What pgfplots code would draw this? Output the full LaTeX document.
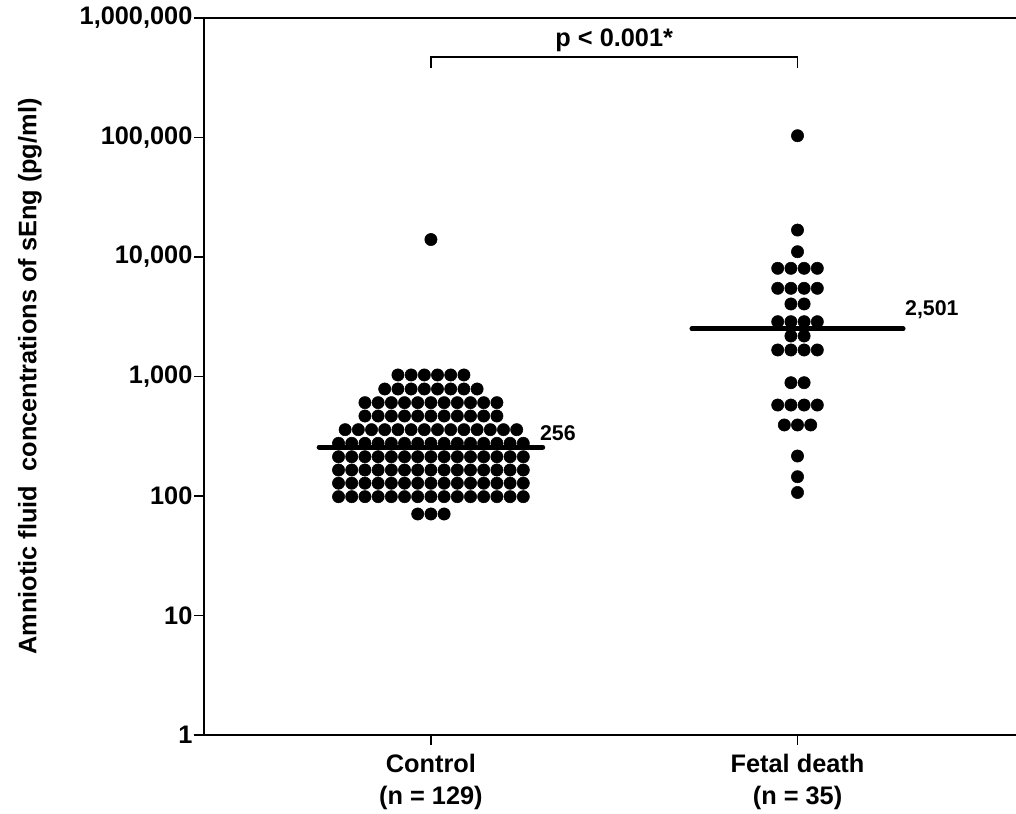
\documentclass[border=0pt]{standalone}
\usepackage{pgfplots}
\pgfplotsset{compat=1.18}
\usepackage{fontspec}
\setmainfont{Liberation Sans}
\newcommand\lab{\fontsize{19}{24}\selectfont\bfseries}
\begin{document}
\begin{tikzpicture}
\begin{axis}[
  scale only axis,
  width=609pt, height=537.75pt,
  ymode=log,
  xmin=-0.619, xmax=1.596,
  ymin=1, ymax=1000000,
  axis x line=box, axis y line=left,
  every outer x axis line/.append style={-},
  every outer y axis line/.append style={-},
  every inner x axis line/.append style={-},
  every inner y axis line/.append style={-},
  axis line style={line width=1.2pt, black},
  tick style={line width=1.2pt, black},
  tick align=outside,
  xtick pos=left, ytick pos=left,
  major tick length=7.5pt,
  yminorticks=false,
  ytick={1,10,100,1000,10000,100000,1000000},
  yticklabels={1,10,100,{1,000},{10,000},{100,000},{1,000,000}},
  xtick={0,1},
  xticklabels={{Control\\(n = 129)},{Fetal death\\(n = 35)}},
  xticklabel style={align=center, font=\lab, yshift=-3pt},
  yticklabel style={font=\lab, inner xsep=1pt},
  ylabel={Amniotic fluid\ \ concentrations of sEng (pg/ml)},
  ylabel style={font=\lab, at={(axis description cs:-0.2143,0.5)}, anchor=center},
  clip=false,
]
% Control group
\addplot[only marks, mark=*, mark size=4.6pt, black] coordinates {
(0,14000)
(-0.09,1030) (-0.054,1030) (-0.018,1030) (0.018,1030) (0.054,1030) (0.09,1030)
(-0.126,786) (-0.09,786) (-0.054,786) (-0.018,786) (0.018,786) (0.054,786) (0.09,786) (0.126,786)
(-0.18,604) (-0.144,604) (-0.108,604) (-0.072,604) (-0.036,604) (0,604) (0.036,604) (0.072,604) (0.108,604) (0.144,604) (0.18,604)
(-0.18,467) (-0.144,467) (-0.108,467) (-0.072,467) (-0.036,467) (0,467) (0.036,467) (0.072,467) (0.108,467) (0.144,467) (0.18,467)
(-0.234,359) (-0.198,359) (-0.162,359) (-0.126,359) (-0.09,359) (-0.054,359) (-0.018,359) (0.018,359) (0.054,359) (0.09,359) (0.126,359) (0.162,359) (0.198,359) (0.234,359)
(-0.252,276) (-0.216,276) (-0.18,276) (-0.144,276) (-0.108,276) (-0.072,276) (-0.036,276) (0,276) (0.036,276) (0.072,276) (0.108,276) (0.144,276) (0.18,276) (0.216,276) (0.252,276)
(-0.252,213) (-0.216,213) (-0.18,213) (-0.144,213) (-0.108,213) (-0.072,213) (-0.036,213) (0,213) (0.036,213) (0.072,213) (0.108,213) (0.144,213) (0.18,213) (0.216,213) (0.252,213)
(-0.252,165) (-0.216,165) (-0.18,165) (-0.144,165) (-0.108,165) (-0.072,165) (-0.036,165) (0,165) (0.036,165) (0.072,165) (0.108,165) (0.144,165) (0.18,165) (0.216,165) (0.252,165)
(-0.252,128) (-0.216,128) (-0.18,128) (-0.144,128) (-0.108,128) (-0.072,128) (-0.036,128) (0,128) (0.036,128) (0.072,128) (0.108,128) (0.144,128) (0.18,128) (0.216,128) (0.252,128)
(-0.252,98.7) (-0.216,98.7) (-0.18,98.7) (-0.144,98.7) (-0.108,98.7) (-0.072,98.7) (-0.036,98.7) (0,98.7) (0.036,98.7) (0.072,98.7) (0.108,98.7) (0.144,98.7) (0.18,98.7) (0.216,98.7) (0.252,98.7)
(-0.036,70.7) (0,70.7) (0.036,70.7)
};
% Fetal death group
\addplot[only marks, mark=*, mark size=4.6pt, black] coordinates {
(1,103500)
(1,16800)
(1,11070)
(0.946,8040) (0.982,8040) (1.018,8040) (1.054,8040)
(0.946,5470) (0.982,5470) (1.018,5470) (1.054,5470)
(0.982,4045) (1.018,4045)
(0.946,2875) (0.982,2875) (1.018,2875) (1.054,2875)
(0.982,2183) (1.018,2183)
(0.946,1667) (0.982,1667) (1.018,1667) (1.054,1667)
(0.982,887) (1.018,887)
(0.946,577) (0.982,577) (1.018,577) (1.054,577)
(0.964,393) (1,393) (1.036,393)
(1,216)
(1,145)
(1,107)
};
% Medians
\addplot[black, line width=3.7pt, line cap=round] coordinates {(-0.305,256) (0.305,256)};
\addplot[black, line width=3.7pt, line cap=round] coordinates {(0.712,2501) (1.288,2501)};
\node[anchor=base west, inner sep=0pt, font=\fontsize{16}{18}\selectfont\bfseries] at (axis cs:0.297,290) {256};
\node[anchor=base west, inner sep=0pt, font=\fontsize{16}{18}\selectfont\bfseries] at (axis cs:1.293,3270) {2,501};
% Significance bracket
\addplot[black, line width=1pt] coordinates {(0,382000) (0,472000) (1,472000) (1,382000)};
\node[anchor=base, inner sep=0pt, font=\lab] at (axis cs:0.5,575000) {p < 0.001*};
\end{axis}
\pgfresetboundingbox
\path[use as bounding box] ([shift={(-153pt,-58.5pt)}]current axis.south west) rectangle ([shift={(0pt,13.5pt)}]current axis.north east);
\end{tikzpicture}
\end{document}
